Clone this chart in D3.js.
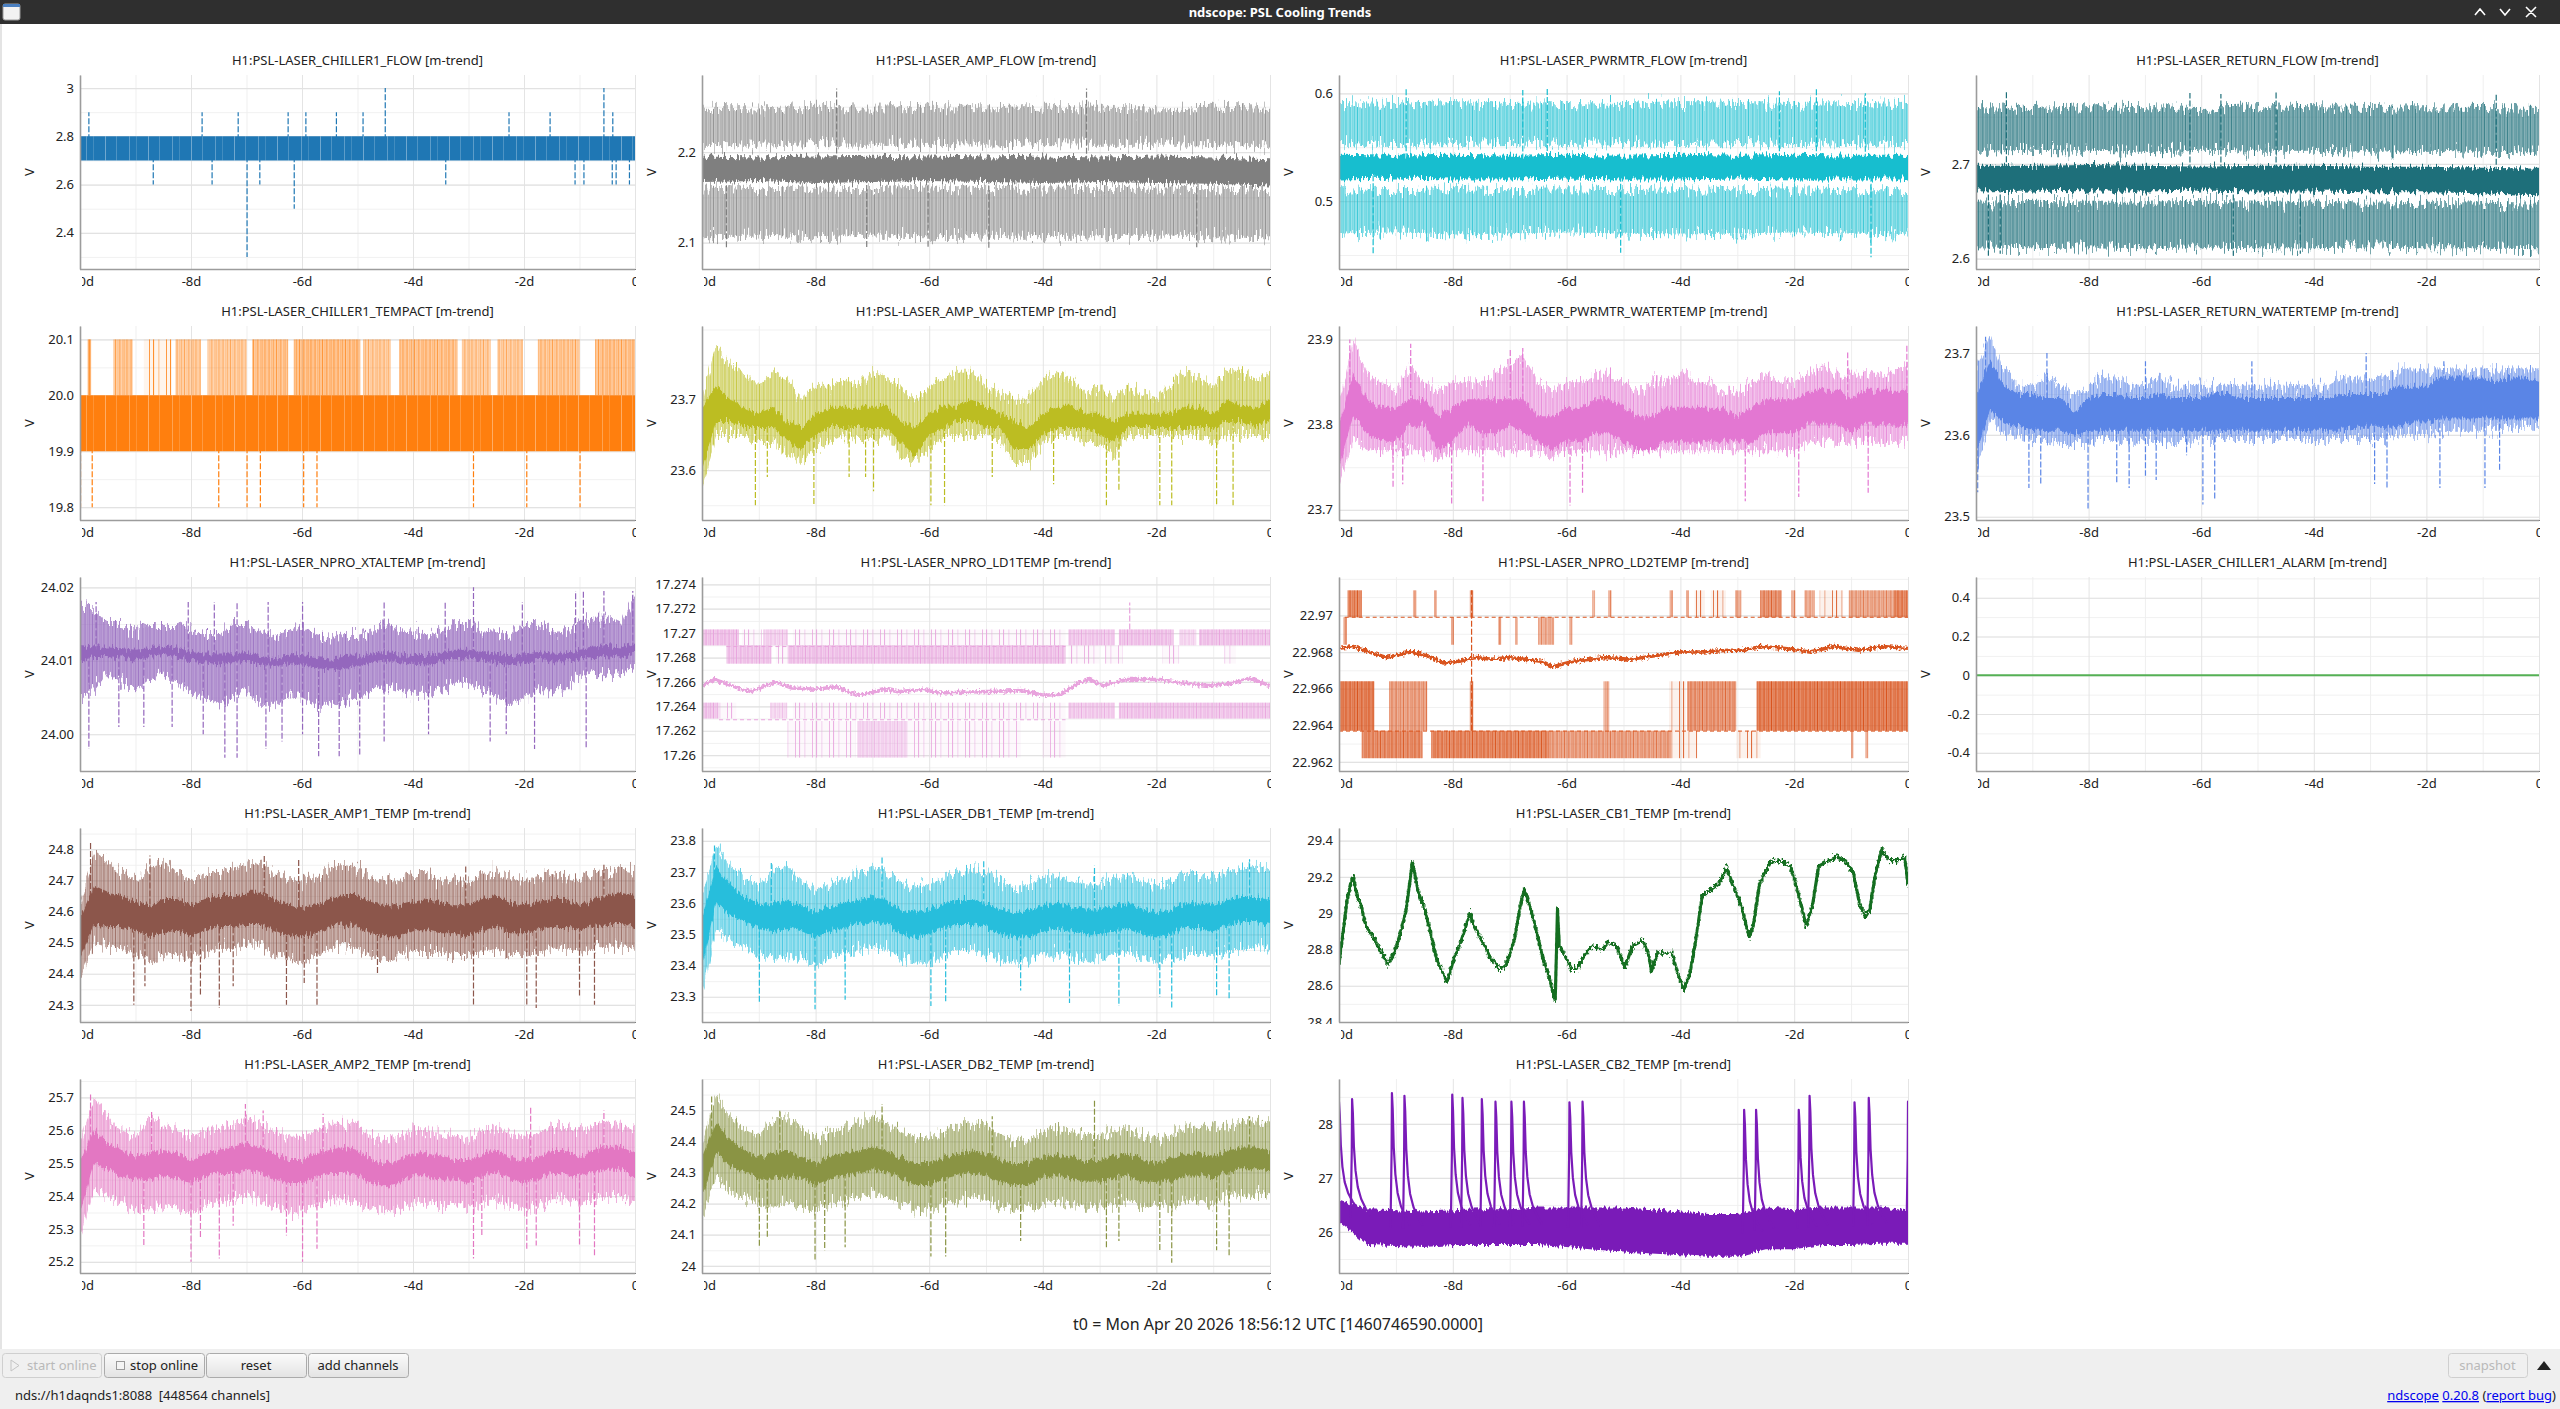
<!DOCTYPE html>
<html><head><meta charset="utf-8">
<script src="https://cdn.jsdelivr.net/npm/d3@7"></script>
<style>
html,body{margin:0;padding:0;background:#fff;overflow:hidden;}
svg{display:block;font-family:"Noto Sans","DejaVu Sans",sans-serif;}
</style></head><body>
<svg id="c" width="2560" height="1409"></svg>
<script>
// ---------------- DATA ----------------
const xDomain=[-10,0];
const xTickVals=[-10,-8,-6,-4,-2,0];
const xTickLabels=['-10d','-8d','-6d','-4d','-2d','0'];
const xGridVals=[-10,-9,-8,-7,-6,-5,-4,-3,-2,-1,0];
const days11=[-10,-9,-8,-7,-6,-5,-4,-3,-2,-1,0];
const days21=[-10,-9.5,-9,-8.5,-8,-7.5,-7,-6.5,-6,-5.5,-5,-4.5,-4,-3.5,-3,-2.5,-2,-1.5,-1,-0.5,0];
const days41=[-10,-9.75,-9.5,-9.25,-9,-8.75,-8.5,-8.25,-8,-7.75,-7.5,-7.25,-7,-6.75,-6.5,-6.25,-6,-5.75,-5.5,-5.25,-5,-4.75,-4.5,-4.25,-4,-3.75,-3.5,-3.25,-3,-2.75,-2.5,-2.25,-2,-1.75,-1.5,-1.25,-1,-0.75,-0.5,-0.25,0];

// CHILLER1_FLOW
const chFlowDom=[2.25,3.054];
const chFlowTicks=[2.4,2.6,2.8,3.0];
const chFlowLabels=['2.4','2.6','2.8','3'];
const chFlowHi=[2.8,2.8,2.8,2.8,2.8,2.8,2.8,2.8,2.8,2.8,2.8];
const chFlowLo=[2.7,2.7,2.7,2.7,2.7,2.7,2.7,2.7,2.7,2.7,2.7];
const chFlowSpikes=[[-9.84,2.9],[-7.80,2.9],[-7.15,2.9],[-6.25,2.9],[-5.93,2.9],[-5.38,2.9],[-4.90,2.9],[-4.50,3.0],[-2.27,2.9],[-1.53,2.9],[-0.56,3.0],[-0.40,2.9],[-8.68,2.6],[-7.62,2.6],[-6.99,2.3],[-6.76,2.6],[-6.14,2.5],[-3.41,2.6],[-1.08,2.6],[-0.92,2.6],[-0.41,2.6],[-0.34,2.6],[-0.10,2.6]];

// AMP_FLOW
const amFlowDom=[2.071,2.285];
const amFlowTicks=[2.1,2.2];
const amFlowLabels=['2.1','2.2'];
const amFlowMaxHi=[2.249,2.248,2.250,2.249,2.250,2.248,2.250,2.249,2.248,2.250,2.249];
const amFlowMaxLo=[2.208,2.207,2.209,2.208,2.208,2.207,2.209,2.208,2.208,2.209,2.206];
const amFlowMeanHi=[2.195,2.194,2.195,2.196,2.195,2.194,2.195,2.194,2.195,2.194,2.192];
const amFlowMeanLo=[2.167,2.168,2.166,2.167,2.168,2.167,2.166,2.167,2.166,2.165,2.163];
const amFlowMinHi=[2.162,2.160,2.161,2.160,2.162,2.160,2.161,2.160,2.161,2.160,2.158];
const amFlowMinLo=[2.107,2.108,2.106,2.108,2.107,2.108,2.106,2.107,2.108,2.107,2.106];
const amFlowSpikes=[[-7.63,2.270],[-3.23,2.270],[-9.57,2.093],[-7.10,2.093],[-6.02,2.095],[-4.95,2.093],[-1.29,2.095]];

// PWRMTR_FLOW
const pmFlowDom=[0.437,0.617];
const pmFlowTicks=[0.5,0.6];
const pmFlowLabels=['0.5','0.6'];
const pmFlowMaxHi=[0.591,0.590,0.592,0.590,0.591,0.590,0.592,0.591,0.590,0.591,0.590];
const pmFlowMaxLo=[0.553,0.552,0.553,0.554,0.552,0.553,0.552,0.553,0.552,0.553,0.552];
const pmFlowMeanHi=[0.543,0.542,0.543,0.542,0.543,0.542,0.543,0.542,0.543,0.542,0.542];
const pmFlowMeanLo=[0.520,0.521,0.520,0.520,0.521,0.520,0.520,0.521,0.520,0.520,0.520];
const pmFlowMinHi=[0.511,0.510,0.511,0.510,0.511,0.510,0.511,0.510,0.511,0.510,0.510];
const pmFlowMinLo=[0.470,0.471,0.469,0.470,0.471,0.470,0.469,0.470,0.471,0.470,0.469];
const pmFlowSpikes=[[-8.82,0.605],[-6.77,0.603],[-6.34,0.604],[-2.26,0.602],[-1.61,0.604],[-0.75,0.600],[-9.40,0.451],[-5.05,0.452],[-0.65,0.448]];

// RETURN_FLOW
const rtFlowDom=[2.589,2.794];
const rtFlowTicks=[2.6,2.7];
const rtFlowLabels=['2.6','2.7'];
const rtFlowMaxHi=[2.760,2.759,2.761,2.760,2.759,2.761,2.760,2.759,2.760,2.759,2.758];
const rtFlowMaxLo=[2.714,2.715,2.714,2.713,2.715,2.714,2.714,2.713,2.714,2.713,2.712];
const rtFlowMeanHi=[2.698,2.698,2.699,2.698,2.697,2.698,2.698,2.697,2.697,2.696,2.695];
const rtFlowMeanLo=[2.671,2.672,2.671,2.671,2.672,2.671,2.671,2.670,2.670,2.669,2.667];
const rtFlowMinHi=[2.660,2.661,2.660,2.660,2.661,2.660,2.660,2.659,2.660,2.659,2.658];
const rtFlowMinLo=[2.612,2.611,2.612,2.611,2.612,2.611,2.611,2.612,2.611,2.611,2.610];
const rtFlowSpikes=[[-9.46,2.778],[-6.20,2.775],[-5.65,2.774],[-4.67,2.776],[-0.76,2.774],[-9.78,2.603],[-9.57,2.605],[-5.43,2.603],[-4.24,2.605]];

// CHILLER1_TEMPACT
const tempactDom=[19.777,20.124];
const tempactTicks=[19.8,19.9,20.0,20.1];
const tempactLabels=['19.8','19.9','20.0','20.1'];
const tempactHi=[20.0,20.0,20.0,20.0,20.0,20.0,20.0,20.0,20.0,20.0,20.0];
const tempactLo=[19.9,19.9,19.9,19.9,19.9,19.9,19.9,19.9,19.9,19.9,19.9];
const tempactSegs=[[-9.86,-9.80,20.0,20.1,0.9],[-9.40,-9.05,20.0,20.1,0.55],[-8.85,-8.35,20.0,20.1,0.45],[-8.28,-7.82,20.0,20.1,0.5],[-7.70,-7.00,20.0,20.1,0.5],[-6.90,-6.25,20.0,20.1,0.6],[-6.15,-4.95,20.0,20.1,0.65],[-4.90,-4.40,20.0,20.1,0.5],[-4.25,-3.20,20.0,20.1,0.6],[-3.12,-2.60,20.0,20.1,0.5],[-2.48,-2.02,20.0,20.1,0.5],[-1.75,-1.00,20.0,20.1,0.55],[-0.72,0,20.0,20.1,0.6]];
const tempactSpikes=[[-9.99,19.8],[-9.78,19.8],[-7.50,19.8],[-6.99,19.8],[-6.75,19.8],[-5.97,19.8],[-5.73,19.8],[-2.91,19.8],[-1.95,19.8],[-0.99,19.8]];

// AMP_WATERTEMP
const amwDom=[23.529,23.805];
const amwTicks=[23.6,23.7];
const amwLabels=['23.6','23.7'];
const amwHi=[23.70,23.78,23.75,23.74,23.72,23.74,23.73,23.70,23.72,23.72,23.73,23.72,23.74,23.73,23.72,23.70,23.72,23.73,23.74,23.74,23.72,23.71,23.70,23.70,23.73,23.74,23.73,23.71,23.72,23.70,23.72,23.71,23.70,23.72,23.74,23.73,23.72,23.74,23.74,23.73,23.74];
const amwMHi=[23.69,23.72,23.70,23.69,23.68,23.69,23.67,23.66,23.68,23.69,23.69,23.69,23.69,23.69,23.67,23.66,23.68,23.69,23.69,23.70,23.69,23.68,23.67,23.66,23.68,23.69,23.69,23.68,23.68,23.67,23.68,23.68,23.68,23.68,23.69,23.69,23.68,23.70,23.69,23.69,23.70];
const amwMLo=[23.60,23.67,23.67,23.66,23.66,23.66,23.64,23.63,23.65,23.66,23.66,23.66,23.66,23.66,23.64,23.62,23.65,23.66,23.67,23.67,23.66,23.66,23.63,23.63,23.65,23.66,23.66,23.66,23.65,23.64,23.66,23.66,23.66,23.66,23.66,23.66,23.66,23.67,23.67,23.66,23.67];
const amwLo=[23.57,23.65,23.65,23.65,23.64,23.64,23.62,23.61,23.63,23.64,23.65,23.64,23.64,23.65,23.62,23.61,23.63,23.65,23.65,23.65,23.65,23.64,23.61,23.61,23.64,23.65,23.65,23.64,23.64,23.62,23.65,23.65,23.65,23.65,23.65,23.65,23.64,23.65,23.65,23.65,23.65];
const amwSpikes=[[-9.06,23.55],[-8.85,23.59],[-8.03,23.55],[-7.41,23.59],[-7.12,23.59],[-6.98,23.57],[-5.97,23.55],[-5.73,23.55],[-4.89,23.59],[-3.81,23.58],[-2.88,23.55],[-2.66,23.57],[-1.94,23.55],[-1.73,23.55],[-0.94,23.55],[-0.65,23.55]];

// PWRMTR_WATERTEMP
const pwtDom=[23.688,23.916];
const pwtTicks=[23.7,23.8,23.9];
const pwtLabels=['23.7','23.8','23.9'];
const pwtHi=[23.82,23.90,23.86,23.85,23.84,23.87,23.85,23.84,23.85,23.85,23.85,23.86,23.87,23.88,23.85,23.84,23.85,23.85,23.86,23.86,23.85,23.84,23.85,23.85,23.86,23.85,23.85,23.84,23.84,23.85,23.86,23.85,23.85,23.86,23.87,23.86,23.86,23.86,23.86,23.86,23.87];
const pwtMHi=[23.80,23.86,23.83,23.82,23.82,23.83,23.83,23.81,23.82,23.83,23.83,23.83,23.83,23.83,23.81,23.81,23.82,23.82,23.83,23.83,23.82,23.81,23.81,23.82,23.82,23.82,23.82,23.82,23.81,23.82,23.83,23.83,23.83,23.84,23.84,23.84,23.83,23.84,23.84,23.84,23.84];
const pwtMLo=[23.75,23.81,23.79,23.78,23.78,23.80,23.80,23.77,23.78,23.80,23.79,23.79,23.80,23.79,23.78,23.77,23.78,23.78,23.79,23.79,23.78,23.77,23.77,23.78,23.78,23.78,23.78,23.78,23.78,23.78,23.79,23.79,23.79,23.80,23.80,23.80,23.79,23.80,23.80,23.80,23.80];
const pwtLo=[23.73,23.78,23.77,23.77,23.77,23.77,23.77,23.76,23.77,23.77,23.77,23.77,23.77,23.77,23.77,23.76,23.77,23.77,23.77,23.77,23.77,23.77,23.77,23.77,23.77,23.77,23.77,23.77,23.77,23.77,23.77,23.77,23.77,23.78,23.78,23.78,23.78,23.78,23.78,23.78,23.78];
const pwtSpikes=[[-9.05,23.725],[-8.88,23.73],[-8.02,23.705],[-7.47,23.71],[-5.94,23.705],[-5.72,23.72],[-2.86,23.71],[-1.92,23.715],[-0.70,23.72],[-8.74,23.895],[-6.99,23.89],[-6.77,23.89],[-1.06,23.885],[-0.02,23.895],[-9.81,23.9]];

// RETURN_WATERTEMP
const rwtDom=[23.496,23.733];
const rwtTicks=[23.5,23.6,23.7];
const rwtLabels=['23.5','23.6','23.7'];
const rwtHi=[23.68,23.72,23.68,23.66,23.66,23.67,23.66,23.65,23.66,23.67,23.67,23.66,23.66,23.67,23.66,23.66,23.66,23.66,23.66,23.66,23.66,23.66,23.66,23.66,23.66,23.66,23.67,23.67,23.67,23.67,23.68,23.68,23.68,23.68,23.68,23.68,23.68,23.68,23.68,23.68,23.68];
const rwtMHi=[23.65,23.69,23.66,23.65,23.65,23.645,23.645,23.63,23.645,23.65,23.65,23.645,23.645,23.65,23.645,23.645,23.645,23.65,23.65,23.645,23.645,23.645,23.645,23.645,23.645,23.645,23.65,23.65,23.65,23.65,23.66,23.66,23.66,23.67,23.67,23.67,23.67,23.665,23.67,23.67,23.665];
const rwtMLo=[23.58,23.63,23.615,23.61,23.605,23.605,23.605,23.60,23.605,23.605,23.605,23.605,23.605,23.605,23.605,23.605,23.605,23.605,23.605,23.605,23.605,23.605,23.605,23.605,23.605,23.605,23.605,23.61,23.61,23.61,23.61,23.615,23.615,23.62,23.62,23.62,23.62,23.62,23.62,23.62,23.62];
const rwtLo=[23.55,23.62,23.60,23.60,23.595,23.595,23.59,23.59,23.59,23.595,23.595,23.59,23.595,23.595,23.59,23.59,23.595,23.595,23.595,23.595,23.595,23.595,23.595,23.595,23.595,23.595,23.595,23.595,23.595,23.595,23.60,23.60,23.60,23.605,23.605,23.605,23.605,23.605,23.61,23.61,23.61];
const rwtSpikes=[[-9.97,23.53],[-9.06,23.535],[-8.85,23.54],[-8.01,23.51],[-7.50,23.54],[-7.28,23.535],[-6.99,23.55],[-6.80,23.545],[-6.26,23.575],[-5.97,23.515],[-5.76,23.52],[-2.92,23.54],[-2.70,23.535],[-1.76,23.535],[-0.96,23.535],[-0.70,23.555],[-9.83,23.72],[-8.74,23.70],[-6.99,23.69],[-5.10,23.69],[-3.07,23.70],[-1.69,23.69]];

// NPRO_XTALTEMP
const xtDom=[23.995,24.0214];
const xtTicks=[24.00,24.01,24.02];
const xtLabels=['24.00','24.01','24.02'];
const xtHi=[24.0180,24.0170,24.0150,24.0150,24.0140,24.0150,24.0150,24.0150,24.0140,24.0135,24.0135,24.0150,24.0150,24.0140,24.0135,24.0140,24.0150,24.0135,24.0130,24.0135,24.0135,24.0140,24.0150,24.0140,24.0140,24.0135,24.0140,24.0150,24.0150,24.0140,24.0140,24.0135,24.0150,24.0150,24.0140,24.0140,24.0150,24.0160,24.0160,24.0150,24.0190];
const xtMHi=[24.0120,24.0118,24.0118,24.0117,24.0115,24.0117,24.0120,24.0118,24.0112,24.0110,24.0110,24.0110,24.0112,24.0108,24.0105,24.0107,24.0108,24.0105,24.0103,24.0105,24.0106,24.0110,24.0112,24.0110,24.0108,24.0108,24.0110,24.0115,24.0115,24.0112,24.0110,24.0108,24.0110,24.0112,24.0110,24.0110,24.0115,24.0118,24.0120,24.0118,24.0125];
const xtMLo=[24.0100,24.0105,24.0105,24.0103,24.0100,24.0105,24.0108,24.0105,24.0100,24.0098,24.0095,24.0098,24.0100,24.0095,24.0093,24.0095,24.0095,24.0090,24.0088,24.0090,24.0093,24.0098,24.0100,24.0098,24.0096,24.0095,24.0098,24.0102,24.0103,24.0100,24.0096,24.0095,24.0097,24.0100,24.0098,24.0098,24.0103,24.0105,24.0106,24.0104,24.0110];
const xtLo=[24.0050,24.0060,24.0085,24.0070,24.0060,24.0075,24.0080,24.0070,24.0060,24.0050,24.0040,24.0050,24.0060,24.0040,24.0040,24.0050,24.0050,24.0040,24.0040,24.0045,24.0050,24.0060,24.0065,24.0060,24.0055,24.0055,24.0060,24.0070,24.0070,24.0060,24.0050,24.0040,24.0050,24.0060,24.0060,24.0060,24.0080,24.0085,24.0080,24.0085,24.0090];
const xtSpikes=[[-9.84,23.998],[-9.30,24.001],[-8.85,24.001],[-8.34,24.001],[-7.78,24.000],[-7.39,23.9968],[-7.17,23.9968],[-6.65,23.998],[-6.36,23.999],[-5.99,24.000],[-5.70,23.997],[-5.33,23.997],[-4.96,23.997],[-4.52,23.999],[-3.72,24.000],[-2.61,23.999],[-2.32,24.000],[-1.81,23.998],[-0.88,23.998],[-9.71,24.018],[-8.05,24.018],[-7.58,24.018],[-7.17,24.018],[-6.61,24.018],[-5.99,24.018],[-4.52,24.018],[-3.42,24.018],[-2.91,24.020],[-2.03,24.018],[-1.07,24.0195],[-0.93,24.0195],[-0.56,24.0195],[-0.04,24.0195]];

// NPRO_LD1TEMP
const ld1Dom=[17.2587,17.2746];
const ld1Ticks=[17.26,17.262,17.264,17.266,17.268,17.27,17.272,17.274];
const ld1Labels=['17.26','17.262','17.264','17.266','17.268','17.27','17.272','17.274'];
const ld1Days=[-10.0,-9.78,-9.42,-9.14,-8.71,-8.42,-7.99,-7.63,-7.27,-6.76,-6.55,-6.12,-5.83,-5.11,-4.39,-3.96,-3.67,-3.38,-3.17,-2.95,-2.52,-1.94,-1.51,-1.08,-0.65,-0.36,0.0];
const ld1Vals=[17.2657,17.2662,17.2656,17.2652,17.2660,17.2655,17.2654,17.2656,17.2649,17.2654,17.2652,17.2654,17.2651,17.2652,17.2653,17.2649,17.2650,17.2659,17.2662,17.2657,17.2662,17.2662,17.2659,17.2657,17.2659,17.2663,17.2657];
const ld1Segs=[[-10,-9.35,17.2690,17.2703,0.9],[-9.3,-8.95,17.2690,17.2703,0.25],[-8.92,-8.49,17.2690,17.2703,0.6],[-8.4,-3.6,17.2690,17.2703,0.12],[-3.55,-2.73,17.2690,17.2703,0.75],[-2.66,-1.7,17.2690,17.2703,0.85],[-1.6,-1.3,17.2690,17.2703,0.5],[-1.25,0,17.2690,17.2703,0.85],
[-9.57,-8.78,17.2675,17.2690,0.85],[-8.7,-8.5,17.2675,17.2690,0.3],[-8.49,-3.6,17.2675,17.2690,0.85],[-3.55,-3.0,17.2675,17.2690,0.3],[-2.9,-2.6,17.2675,17.2690,0.2],[-1.9,-1.6,17.2675,17.2690,0.2],[-0.8,-0.6,17.2675,17.2690,0.2],
[-10,-9.71,17.2630,17.2643,0.85],[-9.7,-9.4,17.2630,17.2643,0.3],[-8.8,-8.5,17.2630,17.2643,0.5],[-8.4,-3.6,17.2630,17.2643,0.1],[-3.55,-2.73,17.2630,17.2643,0.7],[-2.66,0,17.2630,17.2643,0.8],
[-8.5,-7.3,17.2598,17.2628,0.15],[-7.27,-6.40,17.2598,17.2628,0.55],[-6.4,-4.4,17.2598,17.2628,0.2],[-4.0,-3.6,17.2598,17.2628,0.15]];
const ld1HLines=[[-9.57,-3.6,17.2689],[-9.7,-3.6,17.2629]];
const ld1Spikes=[[-2.47,17.2703,17.2725]];

// NPRO_LD2TEMP
const ld2Dom=[22.9615,22.9721];
const ld2Ticks=[22.962,22.964,22.966,22.968,22.97];
const ld2Labels=['22.962','22.964','22.966','22.968','22.97'];
const ld2Days=[-10,-9.74,-9.46,-9.17,-8.74,-8.45,-8.17,-7.88,-7.60,-7.31,-7.02,-6.74,-6.45,-6.24,-5.88,-5.59,-5.31,-4.88,-4.45,-4.02,-3.59,-3.16,-2.88,-2.59,-2.16,-1.73,-1.30,-0.87,-0.44,0];
const ld2Vals=[22.9682,22.9683,22.9680,22.9677,22.9680,22.9678,22.9674,22.9675,22.9677,22.9676,22.9677,22.9676,22.9675,22.9672,22.9675,22.9676,22.9677,22.9676,22.9678,22.9680,22.9680,22.9681,22.9681,22.9683,22.9682,22.9680,22.9683,22.9681,22.9683,22.9682];
const ld2Segs=[
[-9.85,-9.6,22.9699,22.97137,0.85],[-8.7,-8.64,22.9699,22.97137,0.5],[-8.33,-8.28,22.9699,22.97137,0.5],[-7.7,-7.64,22.9699,22.97137,0.6],[-5.55,-5.5,22.9699,22.97137,0.5],[-5.27,-5.21,22.9699,22.97137,0.5],[-4.19,-4.13,22.9699,22.97137,0.5],[-3.9,-3.85,22.9699,22.97137,0.5],[-3.75,-3.57,22.9699,22.97137,0.4],[-3.47,-3.2,22.9699,22.97137,0.4],[-3.04,-2.93,22.9699,22.97137,0.5],[-2.6,-2.22,22.9699,22.97137,0.75],[-2.05,-1.98,22.9699,22.97137,0.5],[-1.82,-1.64,22.9699,22.97137,0.5],[-1.55,-1.14,22.9699,22.97137,0.45],[-1.04,-0.25,22.9699,22.97137,0.55],[-0.25,0,22.9699,22.97137,0.85],
[-9.92,-9.86,22.9684,22.9699,0.6],[-8.03,-7.98,22.9684,22.9699,0.6],[-7.2,-7.15,22.9684,22.9699,0.6],[-6.9,-6.86,22.9684,22.9699,0.6],[-6.5,-6.22,22.9684,22.9699,0.5],[-5.95,-5.9,22.9684,22.9699,0.6],
[-10,-9.38,22.9637,22.9664,0.95],[-9.12,-8.45,22.9637,22.9664,0.6],[-7.7,-7.64,22.9637,22.9664,0.7],[-5.35,-5.25,22.9637,22.9664,0.5],[-4.2,-3.9,22.9637,22.9664,0.3],[-3.88,-3.02,22.9637,22.9664,0.7],[-2.66,0,22.9637,22.9664,0.95],
[-9.6,-8.53,22.9622,22.9637,0.8],[-8.38,-6.31,22.9622,22.9637,0.85],[-6.31,-4.16,22.9622,22.9637,0.6],[-4.16,-3.7,22.9622,22.9637,0.3],[-3.02,-2.59,22.9622,22.9637,0.4],[-1.0,-0.96,22.9622,22.9637,0.5],[-0.75,-0.7,22.9622,22.9637,0.5]];
const ld2HLines=[[-9.9,0,22.9699],[-10,0,22.96368]];
const ld2Spikes=[[-7.67,22.9637,22.97137]];

// CHILLER1_ALARM
const alarmDom=[-0.494,0.507];
const alarmTicks=[-0.4,-0.2,0,0.2,0.4];
const alarmLabels=['-0.4','-0.2','0','0.2','0.4'];
const alarmVals=[0,0,0,0,0,0,0,0,0,0,0];

// AMP1_TEMP
const a1Dom=[24.245,24.868];
const a1Ticks=[24.3,24.4,24.5,24.6,24.7,24.8];
const a1Labels=['24.3','24.4','24.5','24.6','24.7','24.8'];
const a1Hi=[24.62,24.79,24.76,24.72,24.70,24.74,24.76,24.72,24.70,24.72,24.72,24.74,24.75,24.76,24.72,24.70,24.70,24.71,24.74,24.75,24.74,24.71,24.70,24.70,24.72,24.72,24.70,24.70,24.69,24.72,24.73,24.71,24.70,24.71,24.72,24.71,24.70,24.72,24.73,24.74,24.73];
const a1MHi=[24.58,24.68,24.66,24.65,24.63,24.62,24.64,24.64,24.62,24.64,24.65,24.65,24.66,24.66,24.64,24.62,24.61,24.62,24.64,24.65,24.65,24.63,24.62,24.62,24.63,24.64,24.63,24.62,24.62,24.64,24.65,24.63,24.62,24.63,24.64,24.64,24.62,24.64,24.65,24.66,24.65];
const a1MLo=[24.45,24.56,24.55,24.55,24.54,24.52,24.53,24.54,24.52,24.54,24.55,24.55,24.56,24.56,24.54,24.52,24.52,24.53,24.55,24.56,24.55,24.53,24.52,24.52,24.54,24.54,24.53,24.53,24.52,24.54,24.55,24.53,24.53,24.54,24.55,24.55,24.54,24.55,24.56,24.56,24.55];
const a1Lo=[24.38,24.50,24.49,24.48,24.46,24.44,24.45,24.46,24.45,24.47,24.48,24.48,24.49,24.49,24.46,24.45,24.44,24.45,24.48,24.49,24.48,24.46,24.45,24.46,24.47,24.47,24.47,24.46,24.46,24.47,24.48,24.46,24.46,24.47,24.48,24.48,24.47,24.48,24.49,24.49,24.48];
const a1Spikes=[[-9.03,24.30],[-8.83,24.36],[-8.00,24.28],[-7.83,24.33],[-7.49,24.29],[-7.24,24.36],[-6.28,24.30],[-5.96,24.37],[-5.73,24.30],[-4.64,24.40],[-2.91,24.30],[-1.95,24.30],[-1.78,24.29],[-1.00,24.33],[-0.73,24.30],[-9.81,24.82],[-8.74,24.78],[-6.68,24.78],[-6.06,24.77],[-3.05,24.75],[-0.56,24.75]];

// DB1_TEMP
const d1Dom=[23.219,23.841];
const d1Ticks=[23.3,23.4,23.5,23.6,23.7,23.8];
const d1Labels=['23.3','23.4','23.5','23.6','23.7','23.8'];
const d1Hi=[23.62,23.79,23.72,23.68,23.66,23.70,23.72,23.67,23.64,23.66,23.68,23.70,23.72,23.70,23.67,23.65,23.66,23.68,23.70,23.71,23.70,23.67,23.65,23.66,23.68,23.69,23.67,23.66,23.66,23.68,23.69,23.67,23.66,23.67,23.69,23.69,23.68,23.70,23.71,23.72,23.71];
const d1MHi=[23.55,23.72,23.66,23.62,23.60,23.60,23.61,23.59,23.57,23.59,23.60,23.61,23.62,23.61,23.58,23.57,23.58,23.60,23.61,23.61,23.60,23.58,23.57,23.58,23.59,23.60,23.59,23.58,23.58,23.59,23.60,23.58,23.57,23.58,23.60,23.60,23.59,23.61,23.62,23.62,23.61];
const d1MLo=[23.40,23.60,23.56,23.54,23.52,23.51,23.52,23.51,23.49,23.51,23.52,23.53,23.54,23.53,23.50,23.49,23.50,23.52,23.53,23.53,23.52,23.50,23.49,23.49,23.51,23.52,23.51,23.50,23.50,23.51,23.52,23.50,23.49,23.50,23.52,23.52,23.51,23.53,23.54,23.54,23.53];
const d1Lo=[23.30,23.52,23.48,23.46,23.43,23.42,23.43,23.42,23.40,23.43,23.44,23.45,23.46,23.45,23.42,23.41,23.41,23.43,23.45,23.45,23.44,23.42,23.41,23.41,23.43,23.44,23.43,23.42,23.42,23.43,23.44,23.42,23.41,23.42,23.44,23.44,23.43,23.45,23.45,23.46,23.45];
const d1Spikes=[[-8.99,23.28],[-8.01,23.26],[-7.48,23.29],[-5.97,23.27],[-5.71,23.28],[-4.39,23.32],[-3.53,23.28],[-2.66,23.27],[-1.94,23.30],[-1.73,23.26],[-0.94,23.30],[-0.72,23.29],[-9.78,23.79],[-8.78,23.73],[-6.83,23.75],[-5.04,23.74],[-3.09,23.72],[-0.36,23.74]];

// AMP2_TEMP
const a2Dom=[25.166,25.756];
const a2Ticks=[25.2,25.3,25.4,25.5,25.6,25.7];
const a2Labels=['25.2','25.3','25.4','25.5','25.6','25.7'];
const a2Hi=[25.55,25.70,25.64,25.60,25.58,25.64,25.62,25.60,25.58,25.60,25.61,25.62,25.64,25.62,25.60,25.58,25.58,25.60,25.62,25.62,25.61,25.58,25.57,25.58,25.60,25.60,25.59,25.58,25.58,25.60,25.61,25.59,25.58,25.59,25.61,25.61,25.60,25.61,25.62,25.62,25.60];
const a2MHi=[25.50,25.60,25.56,25.54,25.52,25.53,25.54,25.53,25.51,25.53,25.54,25.55,25.56,25.55,25.53,25.51,25.51,25.53,25.54,25.55,25.54,25.51,25.50,25.51,25.53,25.53,25.52,25.51,25.51,25.53,25.54,25.52,25.51,25.52,25.54,25.54,25.52,25.54,25.55,25.55,25.53];
const a2MLo=[25.35,25.50,25.48,25.46,25.45,25.45,25.46,25.45,25.44,25.46,25.47,25.47,25.48,25.47,25.45,25.44,25.44,25.46,25.47,25.47,25.46,25.44,25.43,25.44,25.46,25.46,25.45,25.45,25.44,25.46,25.47,25.45,25.44,25.45,25.47,25.47,25.46,25.47,25.48,25.48,25.46];
const a2Lo=[25.28,25.42,25.40,25.38,25.36,25.36,25.37,25.36,25.35,25.37,25.38,25.39,25.40,25.39,25.37,25.35,25.35,25.37,25.39,25.39,25.38,25.36,25.35,25.36,25.38,25.38,25.37,25.37,25.36,25.38,25.39,25.37,25.36,25.37,25.39,25.39,25.38,25.39,25.40,25.40,25.38];
const a2Spikes=[[-8.85,25.25],[-8.00,25.20],[-7.83,25.27],[-7.49,25.21],[-7.24,25.31],[-6.28,25.28],[-5.99,25.20],[-5.73,25.24],[-2.91,25.21],[-2.76,25.28],[-1.95,25.24],[-1.78,25.25],[-1.00,25.25],[-0.73,25.22],[-9.81,25.71],[-8.71,25.66],[-7.02,25.68],[-6.70,25.66],[-5.62,25.65],[-1.88,25.67],[-0.56,25.66]];

// DB2_TEMP
const d2Dom=[23.977,24.600];
const d2Ticks=[24.0,24.1,24.2,24.3,24.4,24.5];
const d2Labels=['24','24.1','24.2','24.3','24.4','24.5'];
const d2Hi=[24.40,24.55,24.48,24.44,24.42,24.47,24.48,24.44,24.41,24.43,24.44,24.46,24.48,24.46,24.43,24.41,24.41,24.43,24.45,24.46,24.45,24.42,24.40,24.41,24.43,24.44,24.43,24.42,24.42,24.43,24.44,24.42,24.41,24.42,24.44,24.45,24.44,24.45,24.46,24.47,24.46];
const d2MHi=[24.35,24.46,24.40,24.37,24.35,24.36,24.37,24.35,24.33,24.35,24.36,24.37,24.38,24.37,24.35,24.33,24.33,24.35,24.36,24.37,24.36,24.34,24.33,24.33,24.35,24.36,24.35,24.34,24.34,24.35,24.36,24.34,24.33,24.34,24.36,24.36,24.35,24.37,24.38,24.38,24.37];
const d2MLo=[24.22,24.36,24.32,24.30,24.28,24.28,24.29,24.28,24.26,24.28,24.29,24.30,24.31,24.30,24.28,24.26,24.26,24.28,24.29,24.30,24.29,24.27,24.26,24.26,24.28,24.29,24.28,24.27,24.27,24.28,24.29,24.27,24.27,24.27,24.29,24.29,24.28,24.30,24.31,24.31,24.30];
const d2Lo=[24.15,24.28,24.24,24.22,24.20,24.19,24.20,24.19,24.18,24.20,24.21,24.22,24.23,24.22,24.20,24.18,24.18,24.20,24.21,24.22,24.21,24.19,24.18,24.18,24.20,24.21,24.20,24.19,24.19,24.20,24.21,24.19,24.19,24.19,24.21,24.21,24.20,24.22,24.23,24.23,24.22];
const d2Spikes=[[-8.99,24.06],[-8.85,24.09],[-8.01,24.02],[-7.84,24.05],[-7.48,24.06],[-5.97,24.03],[-5.71,24.03],[-4.39,24.08],[-2.88,24.06],[-2.66,24.08],[-1.94,24.05],[-1.73,24.01],[-0.94,24.05],[-0.72,24.03],[-9.83,24.55],[-8.63,24.50],[-6.83,24.52],[-4.89,24.48],[-3.09,24.53],[-0.36,24.48]];

// CB1_TEMP
const cb1Dom=[28.40,29.47];
const cb1Ticks=[28.4,28.6,28.8,29.0,29.2,29.4];
const cb1Labels=['28.4','28.6','28.8','29','29.2','29.4'];
const cb1Days=[-10.00,-9.93,-9.86,-9.78,-9.75,-9.68,-9.61,-9.53,-9.43,-9.32,-9.21,-9.14,-9.03,-8.92,-8.82,-8.71,-8.60,-8.49,-8.39,-8.28,-8.17,-8.10,-7.99,-7.85,-7.70,-7.63,-7.49,-7.35,-7.17,-7.06,-6.92,-6.81,-6.74,-6.63,-6.52,-6.41,-6.31,-6.20,-6.16,-6.13,-6.02,-5.91,-5.80,-5.70,-5.55,-5.37,-5.27,-5.12,-4.98,-4.84,-4.66,-4.55,-4.51,-4.40,-4.15,-4.05,-3.94,-3.83,-3.72,-3.62,-3.47,-3.33,-3.19,-3.08,-2.93,-2.79,-2.72,-2.61,-2.43,-2.25,-2.07,-1.97,-1.86,-1.79,-1.68,-1.57,-1.39,-1.25,-1.10,-0.96,-0.85,-0.75,-0.67,-0.57,-0.46,-0.32,-0.17,-0.06,0.00];
const cb1Vals=[28.72,28.89,29.07,29.18,29.20,29.09,29.04,28.93,28.89,28.82,28.76,28.72,28.78,28.89,29.02,29.28,29.11,29.02,28.89,28.74,28.67,28.62,28.74,28.85,29.00,28.93,28.85,28.76,28.69,28.72,28.85,29.05,29.13,29.02,28.89,28.74,28.65,28.52,29.02,28.82,28.76,28.69,28.70,28.76,28.82,28.80,28.84,28.82,28.70,28.82,28.85,28.76,28.68,28.78,28.78,28.67,28.58,28.67,28.87,29.09,29.13,29.16,29.25,29.16,29.04,28.87,28.93,29.16,29.28,29.29,29.26,29.16,29.02,28.93,29.04,29.26,29.29,29.31,29.29,29.22,29.05,28.98,29.02,29.22,29.35,29.29,29.29,29.31,29.16];

// CB2_TEMP
const cb2Dom=[25.24,28.83];
const cb2Ticks=[26,27,28];
const cb2Labels=['26','27','28'];
const cb2Hi=[26.60,26.42,26.40,26.38,26.40,26.42,26.42,26.45,26.45,26.45,26.45,26.42,26.38,26.33,26.33,26.45,26.42,26.45,26.45,26.45,26.40];
const cb2Lo=[26.20,25.76,25.74,25.72,25.76,25.76,25.76,25.76,25.72,25.67,25.64,25.60,25.57,25.54,25.54,25.68,25.68,25.76,25.76,25.78,25.78];
const cb2Peaks=[[-10.0,28.41],[-9.77,28.46],[-9.07,28.57],[-8.85,28.52],[-8.01,28.54],[-7.83,28.48],[-7.49,28.46],[-7.25,28.41],[-6.97,28.41],[-6.75,28.41],[-5.95,28.40],[-5.72,28.41],[-2.88,28.26],[-2.67,28.26],[-1.92,28.26],[-1.73,28.52],[-0.94,28.40],[-0.69,28.48],[0.0,28.41]];
const cb2ProfDt=[-0.025,-0.006,0,0.014,0.032,0.06,0.1,0.16,0.24,0.32];
const cb2ProfFrac=[0,0.55,1,0.88,0.6,0.4,0.26,0.16,0.08,0.02];

// ---------------- PANELS (built from the arrays) ----------------
const panels=[
 {t:'H1:PSL-LASER_CHILLER1_FLOW [m-trend]',r:0,c:0,color:'#1f77b4',dom:chFlowDom,ticks:chFlowTicks,labels:chFlowLabels,minor:0.1,
  solid:[{d:days11,lo:chFlowLo,hi:chFlowHi,jag:false}],spikes:chFlowSpikes,streaks:true},
 {t:'H1:PSL-LASER_AMP_FLOW [m-trend]',r:0,c:1,color:'#7f7f7f',dom:amFlowDom,ticks:amFlowTicks,labels:amFlowLabels,minor:0.05,
  light:[{d:days11,lo:amFlowMaxLo,hi:amFlowMaxHi},{d:days11,lo:amFlowMinLo,hi:amFlowMinHi}],solid:[{d:days11,lo:amFlowMeanLo,hi:amFlowMeanHi}],spikes:amFlowSpikes},
 {t:'H1:PSL-LASER_PWRMTR_FLOW [m-trend]',r:0,c:2,color:'#17becf',dom:pmFlowDom,ticks:pmFlowTicks,labels:pmFlowLabels,minor:0.05,
  light:[{d:days11,lo:pmFlowMaxLo,hi:pmFlowMaxHi},{d:days11,lo:pmFlowMinLo,hi:pmFlowMinHi}],solid:[{d:days11,lo:pmFlowMeanLo,hi:pmFlowMeanHi}],spikes:pmFlowSpikes},
 {t:'H1:PSL-LASER_RETURN_FLOW [m-trend]',r:0,c:3,color:'#1e6f7a',dom:rtFlowDom,ticks:rtFlowTicks,labels:rtFlowLabels,minor:0.05,under:0.45,
  light:[{d:days11,lo:rtFlowMaxLo,hi:rtFlowMaxHi},{d:days11,lo:rtFlowMinLo,hi:rtFlowMinHi}],solid:[{d:days11,lo:rtFlowMeanLo,hi:rtFlowMeanHi}],spikes:rtFlowSpikes},
 {t:'H1:PSL-LASER_CHILLER1_TEMPACT [m-trend]',r:1,c:0,color:'#ff7f0e',dom:tempactDom,ticks:tempactTicks,labels:tempactLabels,minor:0.05,
  solid:[{d:days11,lo:tempactLo,hi:tempactHi,jag:false}],segs:tempactSegs,spikes:tempactSpikes,streaks:true},
 {t:'H1:PSL-LASER_AMP_WATERTEMP [m-trend]',r:1,c:1,color:'#bcbd22',dom:amwDom,ticks:amwTicks,labels:amwLabels,minor:0.05,
  light:[{d:days41,lo:amwLo,hi:amwHi}],solid:[{d:days41,lo:amwMLo,hi:amwMHi}],spikes:amwSpikes},
 {t:'H1:PSL-LASER_PWRMTR_WATERTEMP [m-trend]',r:1,c:2,color:'#e377d2',dom:pwtDom,ticks:pwtTicks,labels:pwtLabels,minor:0.05,
  light:[{d:days41,lo:pwtLo,hi:pwtHi}],solid:[{d:days41,lo:pwtMLo,hi:pwtMHi}],spikes:pwtSpikes},
 {t:'H1:PSL-LASER_RETURN_WATERTEMP [m-trend]',r:1,c:3,color:'#5a85e6',dom:rwtDom,ticks:rwtTicks,labels:rwtLabels,minor:0.05,
  light:[{d:days41,lo:rwtLo,hi:rwtHi}],solid:[{d:days41,lo:rwtMLo,hi:rwtMHi}],spikes:rwtSpikes},
 {t:'H1:PSL-LASER_NPRO_XTALTEMP [m-trend]',r:2,c:0,color:'#9467bd',dom:xtDom,ticks:xtTicks,labels:xtLabels,minor:0.005,under:0.55,
  light:[{d:days41,lo:xtLo,hi:xtHi}],solid:[{d:days41,lo:xtMLo,hi:xtMHi}],spikes:xtSpikes},
 {t:'H1:PSL-LASER_NPRO_LD1TEMP [m-trend]',r:2,c:1,color:'#e8a3dd',dom:ld1Dom,ticks:ld1Ticks,labels:ld1Labels,minor:0.001,
  segs:ld1Segs,hlines:ld1HLines,spikes3:ld1Spikes,lines:[{d:ld1Days,v:ld1Vals,w:3.5,jag:true}]},
 {t:'H1:PSL-LASER_NPRO_LD2TEMP [m-trend]',r:2,c:2,color:'#d9541e',dom:ld2Dom,ticks:ld2Ticks,labels:ld2Labels,minor:0.001,segU:0.6,
  segs:ld2Segs,hlines:ld2HLines,spikes3:ld2Spikes,lines:[{d:ld2Days,v:ld2Vals,w:3.5,jag:true}]},
 {t:'H1:PSL-LASER_CHILLER1_ALARM [m-trend]',r:2,c:3,color:'#55b055',dom:alarmDom,ticks:alarmTicks,labels:alarmLabels,minor:0.1,
  lines:[{d:days11,v:alarmVals,w:2,jag:false}]},
 {t:'H1:PSL-LASER_AMP1_TEMP [m-trend]',r:3,c:0,color:'#8c564b',dom:a1Dom,ticks:a1Ticks,labels:a1Labels,minor:0.05,
  light:[{d:days41,lo:a1Lo,hi:a1Hi}],solid:[{d:days41,lo:a1MLo,hi:a1MHi}],spikes:a1Spikes},
 {t:'H1:PSL-LASER_DB1_TEMP [m-trend]',r:3,c:1,color:'#27bedc',dom:d1Dom,ticks:d1Ticks,labels:d1Labels,minor:0.05,
  light:[{d:days41,lo:d1Lo,hi:d1Hi}],solid:[{d:days41,lo:d1MLo,hi:d1MHi}],spikes:d1Spikes},
 {t:'H1:PSL-LASER_CB1_TEMP [m-trend]',r:3,c:2,color:'#146e20',dom:cb1Dom,ticks:cb1Ticks,labels:cb1Labels,minor:0.1,jn:11,
  lines:[{d:cb1Days,v:cb1Vals,w:3.2,jag:true}]},
 {t:'H1:PSL-LASER_AMP2_TEMP [m-trend]',r:4,c:0,color:'#e377c2',dom:a2Dom,ticks:a2Ticks,labels:a2Labels,minor:0.05,
  light:[{d:days41,lo:a2Lo,hi:a2Hi}],solid:[{d:days41,lo:a2MLo,hi:a2MHi}],spikes:a2Spikes},
 {t:'H1:PSL-LASER_DB2_TEMP [m-trend]',r:4,c:1,color:'#8a9444',dom:d2Dom,ticks:d2Ticks,labels:d2Labels,minor:0.05,
  light:[{d:days41,lo:d2Lo,hi:d2Hi}],solid:[{d:days41,lo:d2MLo,hi:d2MHi}],spikes:d2Spikes},
 {t:'H1:PSL-LASER_CB2_TEMP [m-trend]',r:4,c:2,color:'#7a1bb8',dom:cb2Dom,ticks:cb2Ticks,labels:cb2Labels,minor:0.5,js:9,
  solid:[{d:days21,lo:cb2Lo,hi:cb2Hi}],peaks:cb2Peaks}
];

// ---------------- LAYOUT ----------------
const colLeft=[80,702,1339,1976], colRight=[635,1270,1908,2539], rowTop=[75,326,577,828,1079], plotH=194;

const svg=d3.select('#c');
const defs=svg.append('defs');

// window chrome
svg.append('rect').attr('x',0).attr('y',0).attr('width',2560).attr('height',1409).attr('fill','#ffffff');
svg.append('rect').attr('x',0).attr('y',0).attr('width',2560).attr('height',24).attr('fill','#2f2f2f');
svg.append('rect').attr('x',3).attr('y',4).attr('width',17).attr('height',16).attr('rx',2).attr('fill','#f2f2f2').attr('stroke','#9a9a9a');
svg.append('rect').attr('x',3).attr('y',4).attr('width',17).attr('height',3).attr('fill','#4a7fc0');
svg.append('text').attr('x',1280).attr('y',16.5).attr('text-anchor','middle').attr('fill','#ffffff').attr('font-weight','bold').attr('font-size',13).text('ndscope: PSL Cooling Trends');
svg.append('path').attr('d','M2475,15 L2480,9 L2485,15 M2500,9 L2505,15 L2510,9 M2526,7 L2536,17 M2536,7 L2526,17').attr('fill','none').attr('stroke','#ffffff').attr('stroke-width',1.6);
svg.append('rect').attr('x',0).attr('y',24).attr('width',2).attr('height',1325).attr('fill','#e4e4e4');
svg.append('rect').attr('x',0).attr('y',1349).attr('width',2560).attr('height',60).attr('fill','#efefef');

function jag(id,L,T,W,H,scale,fy,seed){
  const f=defs.append('filter').attr('id',id).attr('filterUnits','userSpaceOnUse')
   .attr('x',L-10).attr('y',T-40).attr('width',W+20).attr('height',H+80)
   .attr('color-interpolation-filters','sRGB');
  f.append('feTurbulence').attr('type','fractalNoise').attr('baseFrequency','0.5 '+fy).attr('numOctaves',2).attr('seed',seed).attr('result','n');
  f.append('feColorMatrix').attr('in','n').attr('type','matrix').attr('values','0 0 0 0 0.5 0 1 0 0 0 0 0 0 0 0 0 0 0 0 1').attr('result','m');
  f.append('feDisplacementMap').attr('in','SourceGraphic').attr('in2','m').attr('scale',scale).attr('xChannelSelector','R').attr('yChannelSelector','G');
}
// irregular vertical hatch (x offset, width, opacity) – purely a texture
const hatchDense=[[0,1.2,1],[2.4,0.8,0.8],[4.1,1.3,1],[6.6,0.9,0.7],[8.3,1.1,0.95],[10.2,0.7,0.8]];
const hatchSparse=[[0,1.1,1],[5.5,0.8,0.7],[13,1,0.9]];
function pat(id,color,spec,wTot){
  const p=defs.append('pattern').attr('id',id).attr('patternUnits','userSpaceOnUse').attr('width',wTot).attr('height',8);
  spec.forEach(s=>p.append('rect').attr('x',s[0]).attr('y',0).attr('width',s[1]).attr('height',8).attr('fill',color).attr('fill-opacity',s[2]));
}
function interp(ds,vs,t){
  const n=Math.min(ds.length,vs.length);
  if(t<=ds[0]) return vs[0];
  for(let k=1;k<n;k++){ if(t<=ds[k]){ const f=(t-ds[k-1])/(ds[k]-ds[k-1]); return vs[k-1]+f*(vs[k]-vs[k-1]); } }
  return vs[n-1];
}
function rows(b){ const n=Math.min(b.d.length,b.lo.length,b.hi.length); return d3.range(n).map(k=>({t:b.d[k],lo:b.lo[k],hi:b.hi[k]})); }

panels.forEach((p,i)=>{
  const L=colLeft[p.c],R=colRight[p.c],T=rowTop[p.r],B=T+plotH,W=R-L;
  const x=d3.scaleLinear().domain(xDomain).range([L,R]);
  const y=d3.scaleLinear().domain(p.dom).range([B,T]);
  const area=d3.area().x(d=>x(d.t)).y0(d=>y(d.lo)).y1(d=>y(d.hi));
  pat('pd'+i,p.color,hatchDense,11.5); pat('ps'+i,p.color,hatchSparse,17);
  if(p.streaks) pat('ps'+i+'w','#ffffff',[[0,0.8,0.35],[7,0.6,0.25],[19,0.9,0.4],[30,0.7,0.3]],43);
  jag('jl'+i,L,T,W,plotH,p.jl||30,0.06,3+i);
  jag('js'+i,L,T,W,plotH,p.js||14,0.06,40+i);
  jag('jn'+i,L,T,W,plotH,p.jn||7,0.3,80+i);
  defs.append('clipPath').attr('id','cp'+i).append('rect').attr('x',L).attr('y',T).attr('width',W).attr('height',plotH);
  defs.append('clipPath').attr('id','cy'+i).append('rect').attr('x',L-80).attr('y',T-9).attr('width',82).attr('height',plotH+11);
  defs.append('clipPath').attr('id','cx'+i).append('rect').attr('x',L+2).attr('y',B-2).attr('width',W-1).attr('height',32);

  // title + unit label
  svg.append('text').attr('x',(L+R)/2).attr('y',T-10).attr('text-anchor','middle').attr('font-size',13).attr('fill','#222').text(p.t);
  svg.append('text').attr('transform',`translate(${L-51},${T+plotH/2}) rotate(-90)`).attr('text-anchor','middle').attr('dy','0.35em').attr('font-size',13).attr('fill','#222').text('V');

  // grids
  const minorVals=[]; for(let k=Math.ceil(p.dom[0]/p.minor-1e-6);k*p.minor<=p.dom[1]+1e-12;k++) minorVals.push(+(k*p.minor).toFixed(6));
  const gg=svg.append('g');
  const gmin=gg.append('g').attr('transform',`translate(${L},0)`).call(d3.axisLeft(y).tickValues(minorVals).tickSize(-W).tickFormat(''));
  gmin.selectAll('line').attr('stroke','#f1f1f1');
  const gv=gg.append('g').attr('transform',`translate(0,${B})`).call(d3.axisBottom(x).tickValues(xGridVals).tickSize(-plotH).tickFormat(''));
  gv.selectAll('line').attr('stroke',d=>(d%2===0)?'#e4e4e4':'#efefef');
  const gmaj=gg.append('g').attr('transform',`translate(${L},0)`).call(d3.axisLeft(y).tickValues(p.ticks).tickSize(-W).tickFormat(''));
  gmaj.selectAll('line').attr('stroke','#e2e2e2').attr('stroke-width',1.2);
  gg.selectAll('.domain').remove();

  const dg=svg.append('g').attr('clip-path',`url(#cp${i})`);
  if(p.light){
    const lg=dg.append('g').attr('filter',`url(#jl${i})`);
    p.light.forEach(b=>{ const r=rows(b);
      lg.append('path').attr('d',area(r)).attr('fill',p.color).attr('fill-opacity',p.under||0.32);
      lg.append('path').attr('d',area(r)).attr('fill',`url(#pd${i})`).attr('fill-opacity',0.75);
    });
  }
  if(p.segs){
    const sgs=dg.append('g');
    const uf=p.segU||0.45;
    sgs.selectAll('rect.segu').data(p.segs).join('rect').attr('class','segu')
      .attr('x',s=>x(s[0])).attr('width',s=>Math.max(1,x(s[1])-x(s[0])))
      .attr('y',s=>y(s[3])).attr('height',s=>y(s[2])-y(s[3]))
      .attr('fill',p.color).attr('fill-opacity',s=>s[4]>=0.5?uf*s[4]:0.08);
    sgs.selectAll('rect.seg').data(p.segs).join('rect').attr('class','seg')
      .attr('x',s=>x(s[0])).attr('width',s=>Math.max(1,x(s[1])-x(s[0])))
      .attr('y',s=>y(s[3])).attr('height',s=>y(s[2])-y(s[3]))
      .attr('fill',s=>s[4]>=0.5?`url(#pd${i})`:`url(#ps${i})`)
      .attr('fill-opacity',s=>s[4]>=0.5?Math.min(1,s[4]+0.1):0.85);
  }
  if(p.hlines){
    dg.selectAll('line.hl').data(p.hlines).join('line').attr('class','hl')
      .attr('x1',s=>x(s[0])).attr('x2',s=>x(s[1])).attr('y1',s=>y(s[2])).attr('y2',s=>y(s[2]))
      .attr('stroke',p.color).attr('stroke-width',1).attr('stroke-dasharray','4,3');
  }
  if(p.spikes){
    const b=p.solid?p.solid[0]:null;
    dg.selectAll('line.spk').data(p.spikes).join('line').attr('class','spk')
      .attr('x1',s=>x(s[0])).attr('x2',s=>x(s[0]))
      .attr('y1',s=>y((interp(b.d,b.lo,s[0])+interp(b.d,b.hi,s[0]))/2)).attr('y2',s=>y(s[1]))
      .attr('stroke',p.color).attr('stroke-width',1.2).attr('stroke-dasharray','6,2');
  }
  if(p.spikes3){
    dg.selectAll('line.spk3').data(p.spikes3).join('line').attr('class','spk3')
      .attr('x1',s=>x(s[0])).attr('x2',s=>x(s[0])).attr('y1',s=>y(s[1])).attr('y2',s=>y(s[2]))
      .attr('stroke',p.color).attr('stroke-width',1.2).attr('stroke-dasharray','6,2');
  }
  if(p.solid){
    p.solid.forEach(b=>{
      const sg=b.jag===false?dg:dg.append('g').attr('filter',`url(#js${i})`);
      sg.append('path').attr('d',area(rows(b))).attr('fill',p.color);
      if(p.streaks) sg.append('path').attr('d',area(rows(b))).attr('fill',`url(#ps${i}w)`);
    });
  }
  if(p.peaks){
    const b=p.solid[0];
    const ln=d3.line().x(d=>x(d[0])).y(d=>y(d[1]));
    p.peaks.forEach(pk=>{
      const base=(interp(b.d,b.lo,pk[0])+interp(b.d,b.hi,pk[0]))/2;
      const pts=cb2ProfDt.map((dt,k)=>[pk[0]+dt, base+cb2ProfFrac[k]*(pk[1]-base)]);
      dg.append('path').attr('d',ln(pts)).attr('fill','none').attr('stroke',p.color).attr('stroke-width',2.2).attr('stroke-linejoin','round');
    });
  }
  if(p.lines){
    p.lines.forEach(l=>{
      const lg2=l.jag?dg.append('g').attr('filter',`url(#jn${i})`):dg;
      const n=Math.min(l.d.length,l.v.length);
      lg2.append('path').datum(d3.range(n)).attr('d',d3.line().x(k=>x(l.d[k])).y(k=>y(l.v[k])))
        .attr('fill','none').attr('stroke',p.color).attr('stroke-width',l.w).attr('stroke-linejoin','round');
    });
  }

  // axes
  const ya=svg.append('g').attr('clip-path',`url(#cy${i})`).append('g').attr('transform',`translate(${L},0)`)
    .call(d3.axisLeft(y).tickValues(p.ticks).tickFormat((d,k)=>p.labels[k]).tickSize(0).tickSizeOuter(0).tickPadding(6));
  ya.attr('font-family',null).attr('font-size',13);
  ya.selectAll('text').attr('fill','#222');
  ya.select('.domain').attr('stroke','#9c9c9c').attr('stroke-width',1.6);
  const xa=svg.append('g').attr('clip-path',`url(#cx${i})`).append('g').attr('transform',`translate(0,${B})`)
    .call(d3.axisBottom(x).tickValues(xTickVals).tickFormat((d,k)=>xTickLabels[k]).tickSize(0).tickSizeOuter(0).tickPadding(8));
  xa.attr('font-family',null).attr('font-size',13);
  xa.selectAll('text').attr('fill','#222');
  svg.append('line').attr('x1',L).attr('x2',R).attr('y1',B+0.5).attr('y2',B+0.5).attr('stroke','#9c9c9c').attr('stroke-width',1.6);
});

// t0 label
svg.append('text').attr('x',1278).attr('y',1330).attr('text-anchor','middle').attr('font-size',16).attr('fill','#222')
  .text('t0 = Mon Apr 20 2026 18:56:12 UTC [1460746590.0000]');

// bottom controls
const grad=defs.append('linearGradient').attr('id','btng').attr('x1',0).attr('y1',0).attr('x2',0).attr('y2',1);
grad.append('stop').attr('offset','0%').attr('stop-color','#fbfbfb');
grad.append('stop').attr('offset','100%').attr('stop-color','#e3e3e3');
const buttons=[
  {x:2,w:99,label:'start online',dis:true,icon:'play',tx:27},
  {x:104,w:100,label:'stop online',icon:'stop',tx:130},
  {x:206,w:100,label:'reset'},
  {x:308,w:100,label:'add channels'},
  {x:2448,w:79,label:'snapshot',dis:true}
];
buttons.forEach(bt=>{
  svg.append('rect').attr('x',bt.x+0.5).attr('y',1353.5).attr('width',bt.w).attr('height',24).attr('rx',3)
    .attr('fill',bt.dis?'#f0f0f0':'url(#btng)').attr('stroke',bt.dis?'#cfcfcf':'#ababab');
  const tcol=bt.dis?'#b9b9b9':'#222';
  if(bt.icon==='play') svg.append('path').attr('d',`M${bt.x+9},1360 L${bt.x+17},1365.5 L${bt.x+9},1371 Z`).attr('fill','none').attr('stroke','#c4c4c4');
  if(bt.icon==='stop') svg.append('rect').attr('x',bt.x+12.5).attr('y',1361.5).attr('width',8).attr('height',8).attr('fill','#f4f4f4').attr('stroke','#9a9a9a');
  if(bt.tx) svg.append('text').attr('x',bt.tx).attr('y',1370).attr('font-size',13).attr('fill',tcol).text(bt.label);
  else svg.append('text').attr('x',bt.x+bt.w/2).attr('y',1370).attr('text-anchor','middle').attr('font-size',13).attr('fill',tcol).text(bt.label);
});
svg.append('path').attr('d','M2537,1370 L2551,1370 L2544,1361 Z').attr('fill','#222');
svg.append('text').attr('x',15).attr('y',1400).attr('font-size',13).attr('fill','#222').style('white-space','pre')
  .text('nds://h1daqnds1:8088  [448564 channels]');
const lk=svg.append('text').attr('x',2556).attr('y',1400).attr('text-anchor','end').attr('font-size',13).attr('fill','#222');
lk.append('tspan').attr('fill','#0000ee').attr('text-decoration','underline').text('ndscope');
lk.append('tspan').text(' ');
lk.append('tspan').attr('fill','#0000ee').attr('text-decoration','underline').text('0.20.8');
lk.append('tspan').text(' (');
lk.append('tspan').attr('fill','#0000ee').attr('text-decoration','underline').text('report bug');
lk.append('tspan').text(')');
</script></body></html>
